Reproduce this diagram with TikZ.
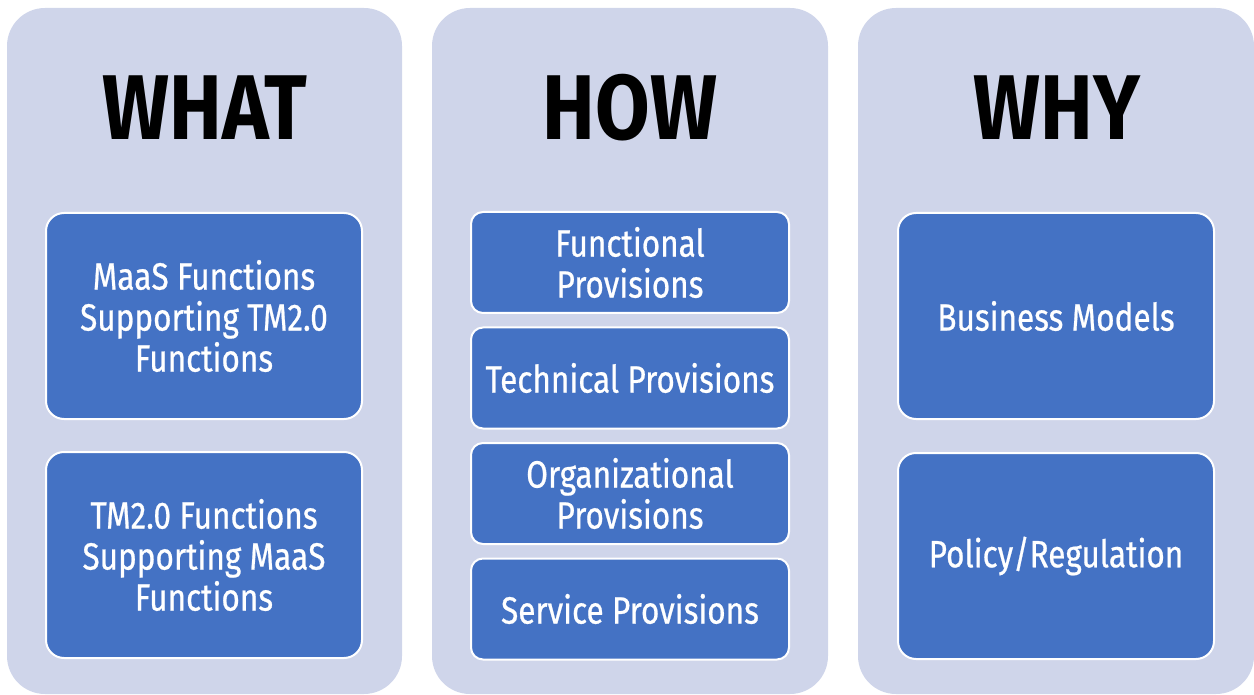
\documentclass[tikz,border=0pt]{standalone}
\usepackage{fontspec}
\setmainfont{Fira Sans}[FakeStretch=0.84]
\newfontfamily\bodyfont{Fira Sans}[FakeStretch=0.83, FakeBold=0.6]
\newfontfamily\headfont{Fira Sans}[FakeStretch=0.86]
\definecolor{outerc}{HTML}{CFD5EA}
\definecolor{innerc}{HTML}{4472C4}
\begin{document}
\begin{tikzpicture}[x=1pt,y=-1pt,
  column/.style={fill=outerc, rounded corners=38pt},
  heading/.style={anchor=base, text=black, inner sep=0pt, font=\headfont\fontsize{92}{92}\selectfont\bfseries},
  bigbox/.style={rectangle, fill=innerc, draw=white, line width=2pt, rounded corners=18pt,
    minimum width=316pt, minimum height=206pt, inner sep=0pt, text=white, align=center,
    font=\bodyfont\fontsize{38}{41}\selectfont},
  smallbox/.style={bigbox, rounded corners=12pt, minimum width=318pt, minimum height=101pt}]
\useasboundingbox (0,0) rectangle (1254,695);
% columns
\fill[column] (7,8) rectangle (402,694);
\fill[column] (432,8) rectangle (828,694);
\fill[column] (858,8) rectangle (1254,694);
% headings
\node[heading] (what) at (205,140) {WHAT};
\node[heading] (how) at (630,140) {HOW};
\node[heading] (why) at (1057,140) {WHY};
% WHAT
\node[bigbox] (w1) at (204,316) {MaaS Functions\\Supporting TM2.0\\Functions};
\node[bigbox] (w2) at (204,555) {TM2.0 Functions\\Supporting MaaS\\Functions};
% HOW
\node[smallbox] (h1) at (630,262.5) {Functional\\Provisions};
\node[smallbox] (h2) at (630,378) {Technical Provisions};
\node[smallbox] (h3) at (630,493.5) {Organizational\\Provisions};
\node[smallbox] (h4) at (630,609) {Service Provisions};
% WHY
\node[bigbox] (y1) at (1056,316) {Business Models};
\node[bigbox] (y2) at (1056,556) {Policy/Regulation};
\end{tikzpicture}
\end{document}
